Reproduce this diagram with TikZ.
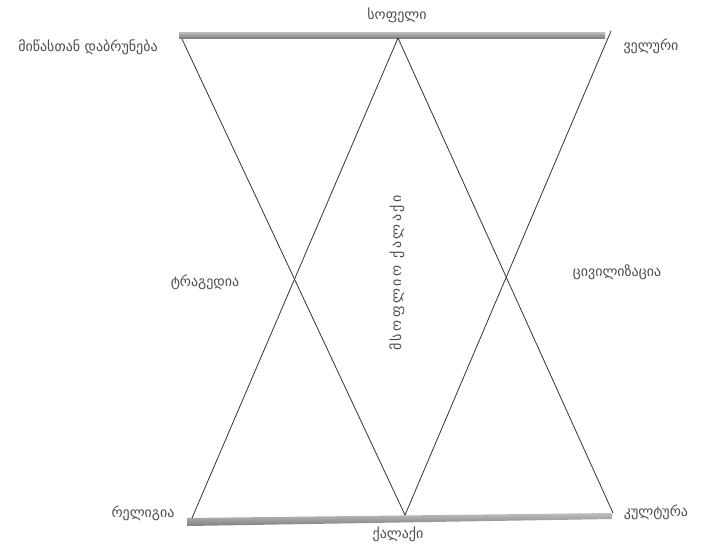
\documentclass[tikz,border=0pt]{standalone}
\usepackage{fontspec}
\newfontfamily\geofont{DejaVu Sans}
\newfontfamily\geowide[LetterSpace=18]{DejaVu Sans}
\usetikzlibrary{positioning}

\begin{document}
\begin{tikzpicture}[x=1pt,y=-1pt,
  lbl/.style={font=\geofont\fontsize{14}{16}\selectfont, text=black!70, inner sep=0pt},
  vlbl/.style={lbl, font=\geowide\fontsize{14}{16}\selectfont, rotate=90},
  ray/.style={black!80, line width=0.8pt},
  bar/.style={top color=black!25, bottom color=black!50, draw=none}]
  \useasboundingbox (0,0) rectangle (702,550);
  % Gray bars
  \shade[bar] (179,32) -- (605,32) -- (605,38) -- (179,38) -- cycle;
  \shade[bar] (187,518) -- (612,513) -- (612,519) -- (187,526) -- cycle;
  % End points of the lines
  \coordinate (tl) at (182,39);
  \coordinate (tm) at (398,38);
  \coordinate (tr) at (611,31);
  \coordinate (bl) at (192,518);
  \coordinate (bm) at (405,515);
  \coordinate (br) at (613,513);
  % Crossing lines
  \draw[ray] (tl) -- (bm);
  \draw[ray] (tm) -- (bl);
  \draw[ray] (tm) -- (br);
  \draw[ray] (tr) -- (bm);
  % Labels
  \node[lbl] (return) at (88,47) {მიწასთან დაბრუნება};
  \node[lbl] (village) at (397,15) {სოფელი};
  \node[lbl] (wild) at (651,46) {ველური};
  \node[lbl] (tragedy) at (205,282) {ტრაგედია};
  \node[lbl] (civil) at (617,272) {ცივილიზაცია};
  \node[vlbl] (world) at (397,273) {მსოფლიო ქალაქი};
  \node[lbl] (religion) at (143,513) {რელიგია};
  \node[lbl] (city) at (398,534) {ქალაქი};
  \node[lbl] (culture) at (656,512) {კულტურა};
\end{tikzpicture}
\end{document}
